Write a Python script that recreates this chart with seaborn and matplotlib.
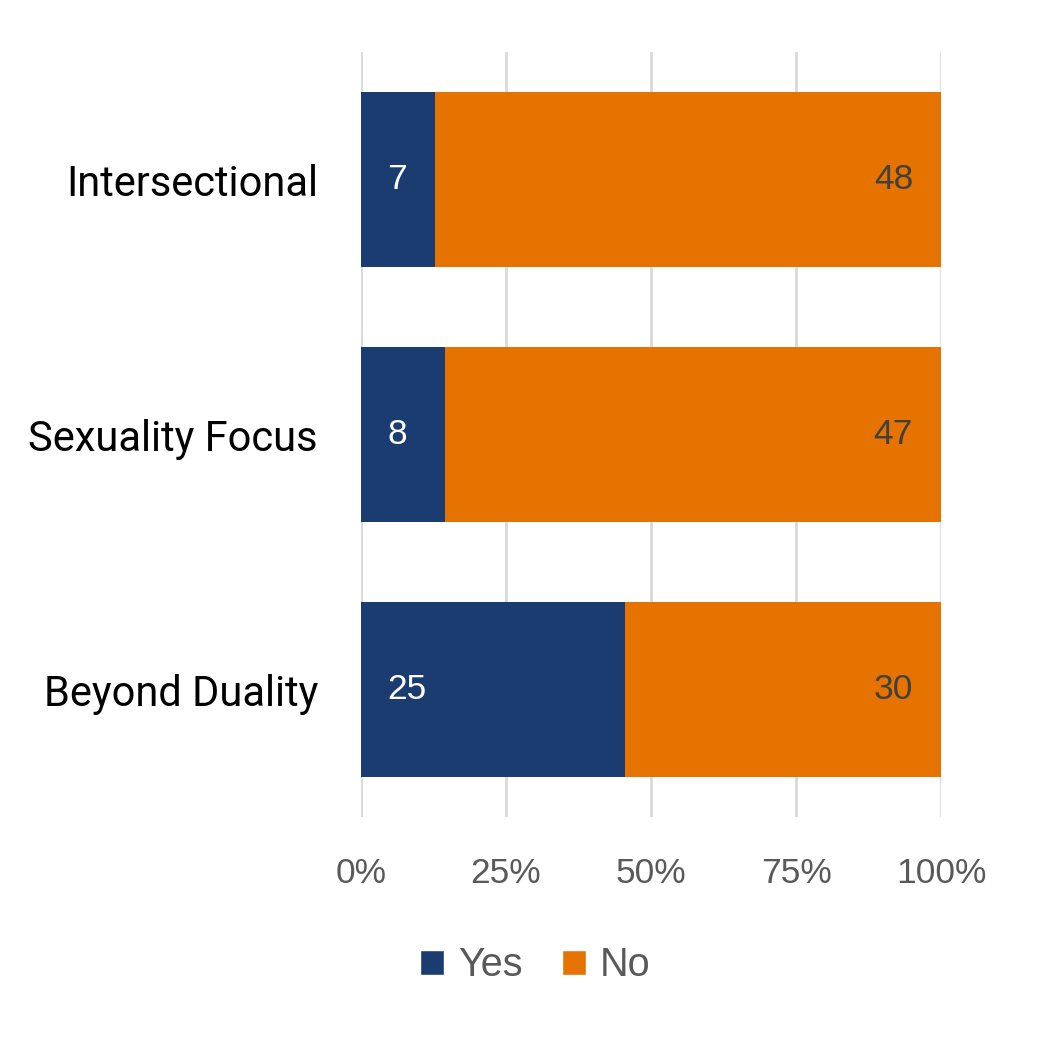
import seaborn as sns
import pandas as pd
import matplotlib.pyplot as plt
from matplotlib.patches import Patch
from matplotlib.ticker import FuncFormatter

categories = ['Intersectional', 'Sexuality Focus', 'Beyond Duality']
yes_counts = [7, 8, 25]
no_counts = [48, 47, 30]
series = ['Yes', 'No']
ticks = [0, 0.25, 0.5, 0.75, 1.0]

navy = '#1B3C71'
orange = '#E67300'

df = pd.DataFrame({'category': categories, 'yes': yes_counts, 'no': no_counts})
df['total'] = df['yes'] + df['no']
df['yes_share'] = df['yes'] / df['total']
df['full'] = 1.0

sns.set_theme(style="white")
plt.rcParams['font.family'] = ['Liberation Sans', 'DejaVu Sans']

fig = plt.figure(figsize=(10.45, 10.4), dpi=100)
ax = fig.add_axes([0.3455, 0.2144, 0.555, 0.7356])

# stacked 100%: draw the full bar in orange, then the Yes share over it
sns.barplot(data=df, x='full', y='category', color=orange, width=0.6875,
            orient='h', ax=ax, saturation=1, linewidth=0)
sns.barplot(data=df, x='yes_share', y='category', color=navy, width=0.6875,
            orient='h', ax=ax, saturation=1, linewidth=0)

ax.set_xlim(0, 1)
ax.set_ylim(2.5, -0.5)
ax.set_xticks(ticks)
ax.xaxis.set_major_formatter(FuncFormatter(lambda x, pos: f'{x * 100:.0f}%'))
ax.grid(axis='x', color='#D9D9D9', linewidth=2)
ax.set_axisbelow(True)
for s in ax.spines.values():
    s.set_visible(False)
ax.tick_params(axis='x', length=0, pad=29, labelsize=25.5, labelcolor='#595959')
ax.tick_params(axis='y', length=0, pad=31, labelsize=30, labelcolor='black')
for lab in ax.get_yticklabels():
    lab.set_family(['Roboto', 'DejaVu Sans'])
ax.set_xlabel('')
ax.set_ylabel('')

# data labels: Yes at inside base, No at inside end
for i, row in df.iterrows():
    ax.annotate(str(row['yes']), (0, i), xytext=(26, 0), textcoords='offset pixels',
                ha='left', va='center', color='white', fontsize=25.5)
    ax.annotate(str(row['no']), (1, i), xytext=(-28, 0), textcoords='offset pixels',
                ha='right', va='center', color='#404040', fontsize=25.5)

handles = [Patch(facecolor=navy, label=series[0]), Patch(facecolor=orange, label=series[1])]
fig.legend(handles=handles, loc='center', bbox_to_anchor=(0.512, 0.072), ncol=2,
           frameon=False, fontsize=28.5, labelcolor='#595959', handlelength=0.6,
           handleheight=0.6, handletextpad=0.35, columnspacing=1.0)

fig.savefig('out.png', dpi=100)
